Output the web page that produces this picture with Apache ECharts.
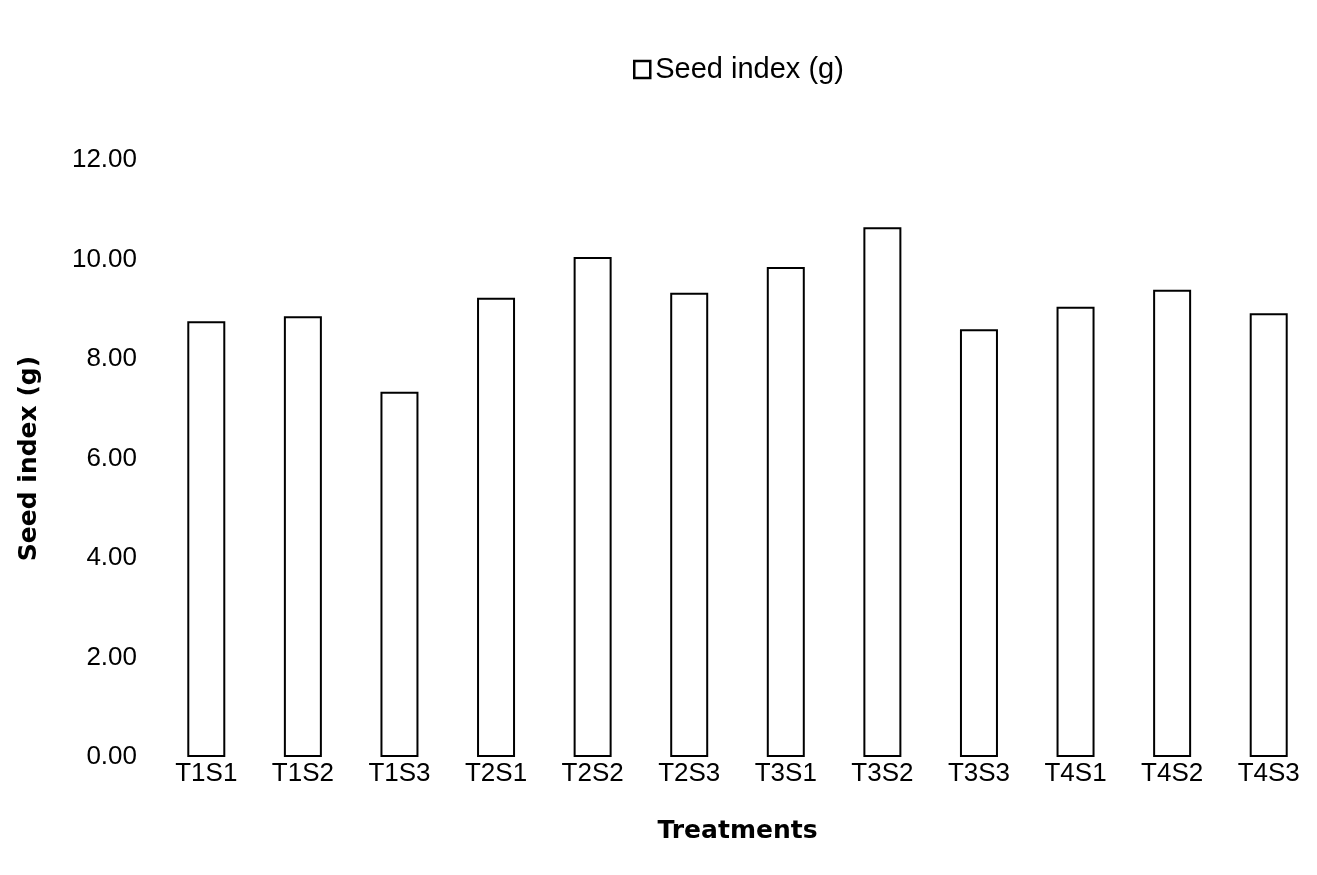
<!DOCTYPE html>
<html>
<head>
<meta charset="utf-8">
<script src="https://cdn.jsdelivr.net/npm/echarts@6/dist/echarts.min.js"></script>
<style>html,body{margin:0;padding:0;background:#fff}#c{width:1317px;height:875px}</style>
</head>
<body>
<div id="c"></div>
<script>
const categories = ['T1S1','T1S2','T1S3','T2S1','T2S2','T2S3','T3S1','T3S2','T3S3','T4S1','T4S2','T4S3'];
const seedIndex = [8.76, 8.86, 7.34, 9.23, 10.05, 9.33, 9.85, 10.65, 8.60, 9.05, 9.39, 8.92];
const seriesName = 'Seed index (g)';
const yAxisTitle = 'Seed index (g)';
const xAxisTitle = 'Treatments';

const sans = 'Liberation Sans, Arial, sans-serif';
const wide = 'DejaVu Sans, sans-serif';

const chart = echarts.init(document.getElementById('c'), null, {renderer: 'canvas'});
chart.setOption({
  backgroundColor: '#fff',
  animation: false,
  textStyle: {fontFamily: sans, color: '#000'},
  legend: {
    left: 628, top: 50,
    itemWidth: 16, itemHeight: 17, itemGap: 8,
    icon: 'rect',
    textStyle: {fontSize: 29, color: '#000', fontFamily: sans},
    data: [{name: seriesName, itemStyle: {color: '#fff', borderColor: '#000', borderWidth: 2.5}}]
  },
  grid: {left: 158, right: -8, top: 160, bottom: 118, containLabel: false},
  xAxis: {
    type: 'category',
    data: categories,
    name: xAxisTitle,
    nameLocation: 'middle',
    nameGap: 62,
    nameTextStyle: {fontSize: 25, fontWeight: 'bold', color: '#000', fontFamily: wide},
    axisLine: {show: false},
    axisTick: {show: false},
    axisLabel: {fontSize: 26, color: '#000', margin: 4, fontFamily: sans}
  },
  yAxis: {
    type: 'value',
    min: 0, max: 12, interval: 2,
    name: yAxisTitle,
    nameLocation: 'middle',
    nameGap: 116,
    nameTextStyle: {fontSize: 25, fontWeight: 'bold', color: '#000', fontFamily: wide},
    axisLine: {show: false},
    axisTick: {show: false},
    splitLine: {show: false},
    axisLabel: {fontSize: 26, color: '#000', margin: 21, fontFamily: sans, formatter: v => v.toFixed(2)}
  },
  series: [{
    name: seriesName,
    type: 'bar',
    data: seedIndex,
    barWidth: 38,
    itemStyle: {color: '#fff', borderColor: '#000', borderWidth: 2}
  }]
});
</script>
</body>
</html>
